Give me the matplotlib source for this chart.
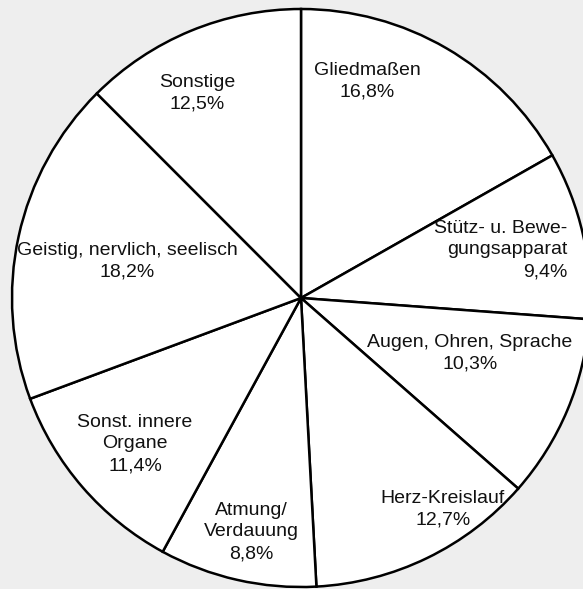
import matplotlib.pyplot as plt

labels = ["Gliedmaßen", "Stütz- u. Bewe-\ngungsapparat", "Augen, Ohren, Sprache",
          "Herz-Kreislauf", "Atmung/\nVerdauung", "Sonst. innere\nOrgane",
          "Geistig, nervlich, seelisch", "Sonstige"]
values = [16.8, 9.4, 10.3, 12.7, 8.8, 11.4, 18.2, 12.5]

# label anchor positions (pixels from top-left) and alignment
label_pos = [(367, 81), (567, 250), (470, 353), (443, 509), (251, 532),
             (135, 444), (127, 261), (197, 93)]
label_ha = ["center", "right", "center", "center", "center", "center", "center", "center"]

W, H = 583, 589
fig = plt.figure(figsize=(W / 100, H / 100), dpi=100, facecolor="#eeeeee")
ax = fig.add_axes([0, 0, 1, 1])

ax.pie(values, startangle=90, counterclock=False, center=(301, H - 298), radius=289,
       colors=["white"] * len(values),
       wedgeprops=dict(edgecolor="black", linewidth=1.8))

for lab, v, (x, y), ha in zip(labels, values, label_pos, label_ha):
    txt = lab + "\n" + f"{v:.1f}".replace(".", ",") + "%"
    ax.text(x, H - y, txt, ha=ha, va="center", multialignment=ha,
            fontsize=14, family="Liberation Sans", linespacing=1.38, color="#111111")

ax.set_xlim(0, W)
ax.set_ylim(0, H)
ax.set_aspect("auto")
ax.axis("off")

fig.savefig("out.png", dpi=100, facecolor="#eeeeee")
